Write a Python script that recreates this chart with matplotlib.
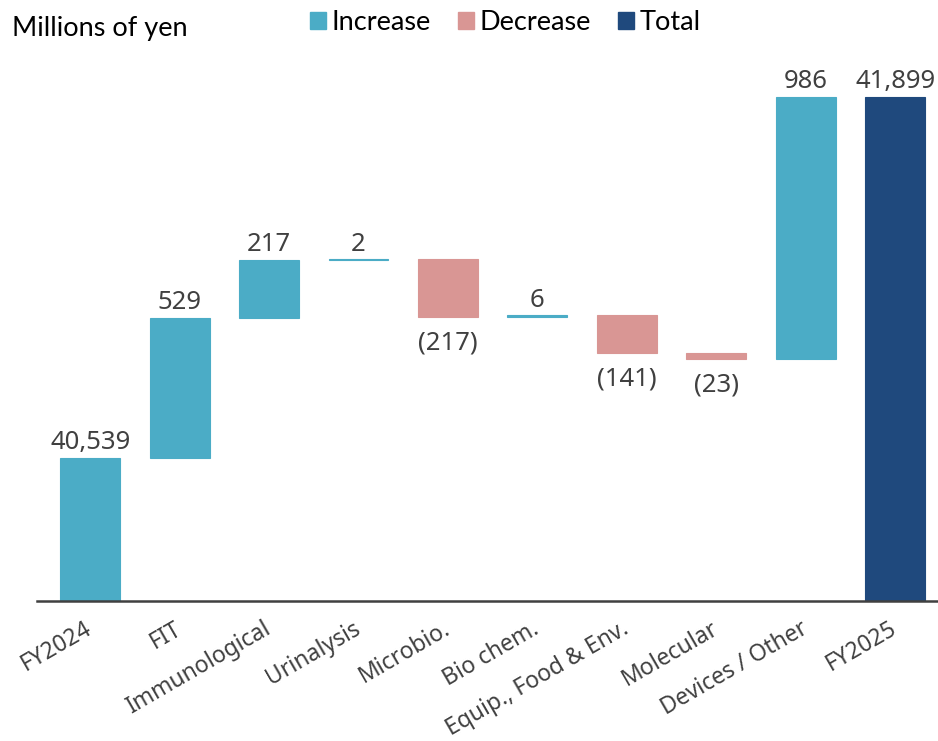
import numpy as np
import matplotlib.pyplot as plt
from matplotlib.patches import Patch

# данные
categories = ['FY2024', 'FIT', 'Immunological', 'Urinalysis', 'Microbio.',
              'Bio chem.', 'Equip., Food & Env.', 'Molecular', 'Devices / Other', 'FY2025']
start_value = 40539
changes = [529, 217, 2, -217, 6, -141, -23, 986]
end_value = 41899
value_labels = ['40,539', '529', '217', '2', '(217)', '6', '(141)', '(23)', '986', '41,899']

c_inc = '#4BACC6'
c_dec = '#D99694'
c_tot = '#1F497D'
txt = '#404040'
base = 40000

plt.rcParams['font.family'] = ['Noto Sans', 'DejaVu Sans']

fig = plt.figure(figsize=(9.38, 7.41), dpi=100)
ax = fig.add_axes([0.039, 0.189, 0.961, 0.75])

x = np.arange(len(categories))
w = 0.67

# нижние и верхние границы столбцов
running = np.cumsum([start_value] + changes)
bottoms = [base]
heights = [start_value - base]
colors = [c_inc]
for i, d in enumerate(changes):
    prev = running[i]
    bottoms.append(min(prev, prev + d))
    heights.append(abs(d))
    colors.append(c_inc if d >= 0 else c_dec)
bottoms.append(base)
heights.append(end_value - base)
colors.append(c_tot)

ax.bar(x, heights, bottom=bottoms, width=w, color=colors, edgecolor=colors, linewidth=0.8)

# подписи значений
deltas = [1] + changes + [1]
for i in range(len(x)):
    if deltas[i] >= 0:
        ax.annotate(value_labels[i], (x[i], bottoms[i] + heights[i]), xytext=(0, 2),
                    textcoords='offset points', ha='center', va='bottom', fontsize=18.5, color=txt)
    else:
        ax.annotate(value_labels[i], (x[i], bottoms[i]), xytext=(0, -10),
                    textcoords='offset points', ha='center', va='top', fontsize=18.5, color=txt)

ax.set_xlim(-0.6, 9.48)
ax.set_ylim(base, 42094)
ax.set_yticks([])
ax.set_xticks(x)
ax.set_xticklabels(categories, rotation=30, ha='right', va='center', rotation_mode='anchor',
                   fontsize=16.5, color=txt)
ax.tick_params(axis='x', length=0, pad=19)
for s in ['top', 'right', 'left']:
    ax.spines[s].set_visible(False)
ax.spines['bottom'].set_color('#404040')
ax.spines['bottom'].set_linewidth(1.8)

fig.text(0.013, 0.962, 'Millions of yen', fontsize=19.5, family='Lato', color='black', va='center')

handles = [Patch(color=c_inc, label='Increase'), Patch(color=c_dec, label='Decrease'),
           Patch(color=c_tot, label='Total')]
fig.legend(handles=handles, loc='center', bbox_to_anchor=(0.539, 0.97), ncol=3, frameon=False,
           prop={'family': 'Lato', 'size': 19.5}, handlelength=0.6, handleheight=0.6,
           handletextpad=0.2, columnspacing=1.0)

plt.savefig('out.png', dpi=100)
